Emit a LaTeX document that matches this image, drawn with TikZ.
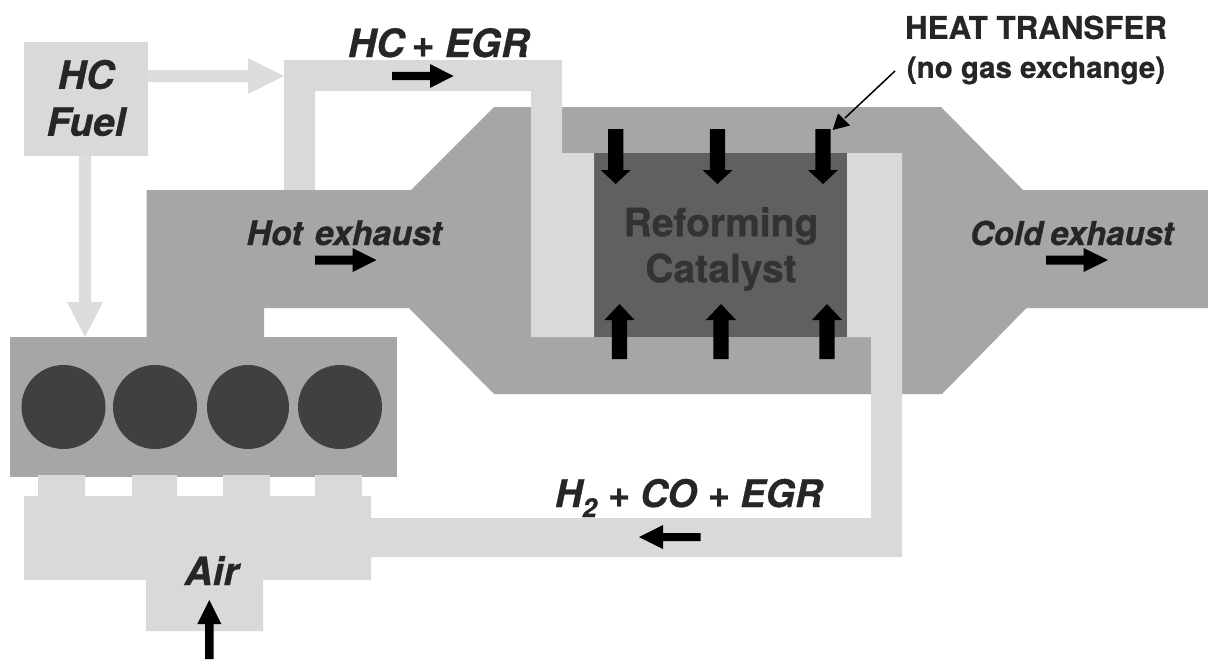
\documentclass[tikz,border=0pt]{standalone}
\usepackage{fontspec}
\setmainfont{TeX Gyre Heros}[BoldFeatures={FakeBold=0.7},BoldItalicFeatures={FakeBold=0.7}]
\definecolor{pipe}{HTML}{D9D9D9}
\definecolor{fuelarrow}{HTML}{DDDDDD}
\definecolor{exhaust}{HTML}{A6A6A6}
\definecolor{catalyst}{HTML}{606060}
\definecolor{cyl}{HTML}{404040}
\definecolor{ink}{HTML}{262626}
\definecolor{catink}{HTML}{333333}
\newcommand{\blockarr}[7]{% x,y of tail, angle, length, head length, shaft half, head half
  \begin{scope}[shift={(#1,#2)},rotate=#3]
    \fill (0,#6) -- ({#4-#5},#6) -- ({#4-#5},#7) -- (#4,0) -- ({#4-#5},-#7) -- ({#4-#5},-#6) -- (0,-#6) -- cycle;
  \end{scope}}
\tikzset{
  lbl/.style={inner sep=0pt,outer sep=0pt,font=\bfseries\itshape,text=ink},
  big/.style={font=\fontsize{39}{47}\selectfont\bfseries\itshape},
  small/.style={font=\fontsize{33.5}{37}\selectfont\bfseries\itshape},
  flowblack/.style={black}
}
\begin{document}
\begin{tikzpicture}[x=1pt,y=-1pt]
\path[use as bounding box,fill=white] (0,0) rectangle (1208,659);
% exhaust body
\fill[exhaust] (146.5,337) -- (146.5,190) -- (411,190) -- (494,107) -- (941,107) -- (1023,190) -- (1208,190) -- (1208,308) -- (1026.5,308) -- (942,394) -- (494,394) -- (409,308) -- (264,308) -- (264,337) -- cycle;
% engine block
\fill[exhaust] (9.6,337) rectangle (396.5,477);
\foreach \cx/\rx in {63.5/42,155/42,248/41,340/42}{\fill[cyl] (\cx,407) ellipse [x radius=\rx,y radius=42];}
% catalyst
\fill[catalyst] (594,153) rectangle (847,337);
% HC + EGR pipe
\fill[pipe] (284,190) -- (284,60) -- (562,60) -- (562,153) -- (594,153) -- (594,337) -- (531,337) -- (531,91) -- (315,91) -- (315,190) -- cycle;
% H2 + CO + EGR pipe and intake
\fill[pipe] (847,153) -- (902,153) -- (902,557) -- (371,557) -- (371,580) -- (263,580) -- (263,631) -- (146,631) -- (146,580) -- (24,580) -- (24,496) -- (38,496) -- (38,475) -- (85,475) -- (85,496) -- (132,496) -- (132,475) -- (177,475) -- (177,496) -- (223,496) -- (223,475) -- (270,475) -- (270,496) -- (315,496) -- (315,475) -- (362,475) -- (362,496) -- (371,496) -- (371,518) -- (871,518) -- (871,337) -- (847,337) -- cycle;
% fuel box and its arrows
\fill[pipe] (24,41.5) rectangle (148,155.5);
\begin{scope}[fuelarrow]
\blockarr{148}{76}{0}{136}{36}{6}{18}
\blockarr{85}{155.5}{-90}{181.5}{35}{6.2}{18}
\end{scope}
% black arrows
\begin{scope}[flowblack]
\blockarr{392}{76}{0}{61.5}{23.5}{4.2}{12}
\blockarr{315}{260}{0}{61.5}{24}{4.5}{12}
\blockarr{1046}{260}{0}{62}{24.5}{4.5}{12}
\blockarr{700.7}{537}{180}{61.7}{24}{4}{12}
\blockarr{209.3}{659}{90}{59}{24}{4.2}{12}
\blockarr{615.7}{129}{-90}{55}{14}{7.6}{15}
\blockarr{717.5}{129}{-90}{55}{14}{7.6}{15}
\blockarr{823}{129}{-90}{55}{14}{7.6}{15}
\blockarr{619.5}{359}{90}{55}{16}{7.6}{15}
\blockarr{721}{359}{90}{55}{16}{7.6}{15}
\blockarr{827}{359}{90}{55}{16}{7.6}{15}
\end{scope}
% labels
\node[lbl,big,align=center] (fuel) at (86,98) {HC\\Fuel};
\node[lbl,big,anchor=base west] (hcegr) at (348,57) {HC\hspace{-4pt} + EGR};
\node[lbl,font=\fontsize{33.9}{37}\selectfont\bfseries\itshape,anchor=base west] (hot) at (246.5,245) {Hot\hspace{3pt} exhaust};
\node[lbl,font=\fontsize{32.9}{37}\selectfont\bfseries\itshape,anchor=base west] (cold) at (970,245) {Cold\hspace{-2pt} exhaust};
\node[lbl,font=\fontsize{39}{46}\selectfont\bfseries,text=catink,align=center] (cat) at (721,249) {Reforming\\Catalyst};
\node[lbl,font=\fontsize{31.3}{39}\selectfont\bfseries,align=center] (heat) at (1036,50) {HEAT TRANSFER\\\fontsize{29.5}{39}\selectfont(no gas exchange)};
\node[lbl,font=\fontsize{38}{46}\selectfont\bfseries\itshape,anchor=base west] (h2) at (555,507) {H\raisebox{-10pt}{\fontsize{26}{30}\selectfont 2} + CO + EGR};
\node[lbl,big,anchor=base west] (air) at (184.5,585) {Air};
% leader
\coordinate (leadfrom) at (895,71);
\coordinate (leadto) at (832.6,130);
\draw[black,line width=1.5pt] (leadfrom) -- (845,118);
\fill[black] (leadto) -- (838,113.5) -- (850,125.5) -- cycle;
\end{tikzpicture}
\end{document}
